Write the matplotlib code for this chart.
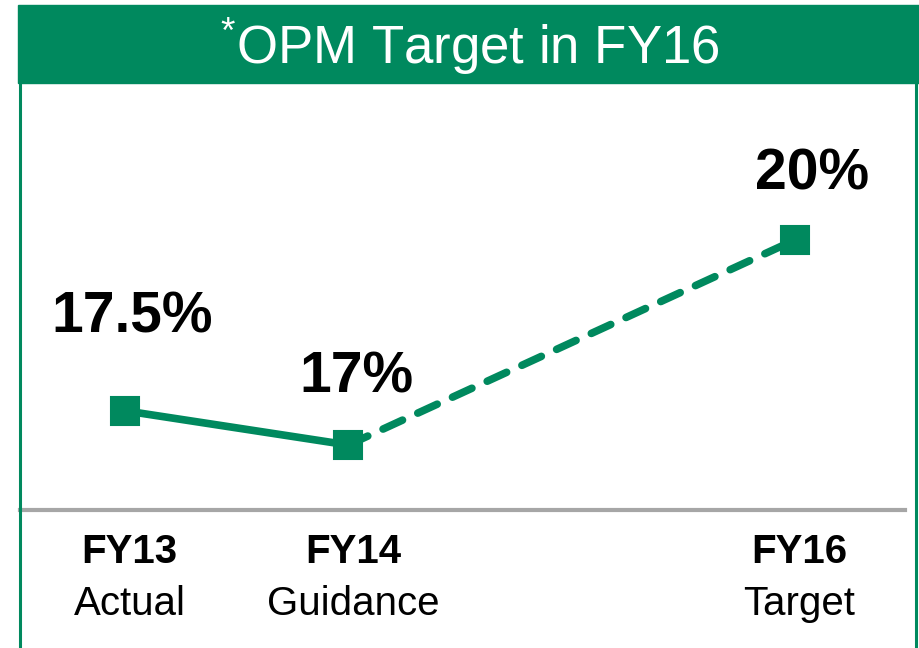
import matplotlib
matplotlib.use("Agg")
import matplotlib.pyplot as plt
from matplotlib.patches import Rectangle
from matplotlib.lines import Line2D

plt.rcParams['font.family'] = ['Liberation Sans', 'DejaVu Sans']
plt.rcParams['mathtext.fontset'] = 'custom'
plt.rcParams['mathtext.rm'] = 'Liberation Sans'

# data
years = [13, 14, 16]
opm = [17.5, 17.0, 20.0]
value_labels = ['17.5%', '17%', '20%']
cat_top = ['FY13', 'FY14', 'FY16']
cat_bottom = ['Actual', 'Guidance', 'Target']
title = '$^{*}$OPM Target in FY16'

green = '#00895E'

fig = plt.figure(figsize=(9.2, 6.48), dpi=100)
ax = fig.add_axes([0, 0, 1, 1])
ax.set_xlim(12.44, 16.56)
ax.set_ylim(14.03, 23.51)
ax.axis('off')

# actual part solid, forecast part dashed
ax.plot(years[:2], opm[:2], color=green, lw=5.5, solid_capstyle='round', zorder=2)
ax.plot(years[1:], opm[1:], color=green, lw=5.5, ls=(0, (2.8, 2.2)),
        dash_capstyle='round', zorder=2)
ax.plot(years, opm, ls='none', marker='s', ms=20, color=green,
        mec=green, mew=1.5, mfc=green, zorder=3)

# value labels
offsets = [(5, 48), (6, 29), (12, 28)]
for x, y, lab, off in zip(years, opm, value_labels, offsets):
    ax.annotate(lab, (x, y), xytext=off, textcoords='offset points',
                ha='center', va='bottom', fontsize=41, fontweight='bold')

# category labels under baseline
trans = ax.get_xaxis_transform()
for x, t1, t2 in zip(years, cat_top, cat_bottom):
    ax.text(x + 0.02, 1 - 552 / 648, t1, transform=trans, ha='center', va='center',
            fontsize=29, fontweight='bold')
    ax.text(x + 0.02, 1 - 604 / 648, t2, transform=trans, ha='center', va='center',
            fontsize=29)

# grey baseline
fig.add_artist(Line2D([20 / 920, 905 / 920], [1 - 510 / 648] * 2,
                      color='#A6A6A6', lw=3, transform=fig.transFigure))

# title bar and frame
fig.add_artist(Rectangle((18 / 920, 1 - 83 / 648), 902 / 920, 78 / 648,
                         transform=fig.transFigure, color=green, zorder=0))
for xf in [20.5 / 920, 916.5 / 920]:
    fig.add_artist(Line2D([xf, xf], [0, 1 - 83 / 648], color=green, lw=2.2,
                          transform=fig.transFigure))
fig.text(470 / 920, 1 - 46 / 648, title, color='white', fontsize=38,
         ha='center', va='center')

fig.savefig('out.png', dpi=100)
